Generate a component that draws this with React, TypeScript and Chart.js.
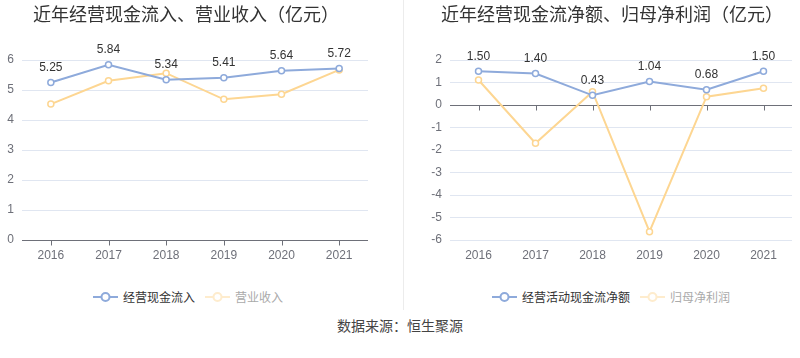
import React, { useEffect, useRef } from 'react';
import { Chart, registerables } from 'chart.js';

Chart.register(...registerables);

const years = ['2016', '2017', '2018', '2019', '2020', '2021'];
const cashInflow = [5.25, 5.84, 5.34, 5.41, 5.64, 5.72];
const revenue = [4.53, 5.31, 5.56, 4.69, 4.86, 5.67];
const netCashFlow = [1.5, 1.4, 0.43, 1.04, 0.68, 1.5];
const netProfit = [1.11, -1.7, 0.59, -5.63, 0.37, 0.74];

const leftTitle = '近年经营现金流入、营业收入（亿元）';
const rightTitle = '近年经营现金流净额、归母净利润（亿元）';
const leftNames = ['经营现金流入', '营业收入'];
const rightNames = ['经营活动现金流净额', '归母净利润'];
const sourceText = '数据来源：恒生聚源';

const BLUE = '#8eaadb';
const ORANGE = '#fdd692';
const NUM_FONT = "'Liberation Sans', Arial, 'Noto Sans CJK SC', sans-serif";
const CJK_FONT = "'Noto Sans CJK SC', 'Liberation Sans', sans-serif";

const zeroAxisPlugin = {
  id: 'zeroAxis',
  beforeDatasetsDraw(chart: any) {
    const { ctx, chartArea, scales } = chart;
    const y0 = Math.round(scales.y.getPixelForValue(0)) + 0.5;
    ctx.save();
    ctx.strokeStyle = '#6e7079';
    ctx.lineWidth = 1;
    ctx.beginPath();
    ctx.moveTo(chartArea.left, y0);
    ctx.lineTo(chartArea.right, y0);
    const n = chart.data.labels.length;
    for (let i = 0; i < n; i++) {
      const x = Math.round(scales.x.getPixelForValue(i)) + 0.5;
      ctx.moveTo(x, y0);
      ctx.lineTo(x, y0 + 5);
    }
    ctx.stroke();
    ctx.restore();
  },
};

const valueLabelPlugin = {
  id: 'valueLabels',
  afterDatasetsDraw(chart: any) {
    const { ctx } = chart;
    const meta = chart.getDatasetMeta(0);
    const data = chart.data.datasets[0].data;
    ctx.save();
    ctx.font = `12px ${NUM_FONT}`;
    ctx.fillStyle = '#333';
    ctx.textAlign = 'center';
    ctx.textBaseline = 'middle';
    meta.data.forEach((pt: any, i: number) => {
      ctx.fillText(Number(data[i]).toFixed(2), pt.x, pt.y - 15);
    });
    ctx.restore();
  },
};

function makeConfig(
  a: number[],
  b: number[],
  names: string[],
  min: number,
  max: number,
  yWidth: number,
  padRight: number
): any {
  const ds = (label: string, data: number[], color: string) => ({
    label,
    data,
    borderColor: color,
    backgroundColor: '#fff',
    borderWidth: 2,
    pointRadius: 3,
    pointBorderWidth: 1.5,
    pointBackgroundColor: '#fff',
    pointBorderColor: color,
    tension: 0,
    clip: false,
  });
  return {
    type: 'line',
    data: {
      labels: years,
      datasets: [ds(names[0], a, BLUE), ds(names[1], b, ORANGE)].reverse().reverse(),
    },
    options: {
      responsive: false,
      animation: false,
      events: [],
      layout: { padding: { top: 60, left: 0, right: padRight, bottom: 0 } },
      plugins: { legend: { display: false }, title: { display: false }, tooltip: { enabled: false } },
      scales: {
        x: {
          type: 'category',
          offset: true,
          grid: { display: false, drawTicks: false },
          border: { display: false },
          ticks: { color: '#6e7079', padding: 8, font: { size: 12, family: NUM_FONT }, maxRotation: 0, autoSkip: false },
          afterFit(scale: any) {
            scale.height = 30;
          },
        },
        y: {
          min,
          max,
          grid: { color: '#e0e6f1', drawTicks: false, lineWidth: 1 },
          border: { display: false },
          ticks: { stepSize: 1, color: '#6e7079', padding: 8, font: { size: 12, family: NUM_FONT } },
          afterFit(scale: any) {
            scale.width = yWidth;
          },
        },
      },
    },
    plugins: [zeroAxisPlugin, valueLabelPlugin],
  };
}

function LineChart(props: { config: any; left: number }) {
  const ref = useRef<HTMLCanvasElement | null>(null);
  useEffect(() => {
    if (!ref.current) return;
    const chart = new Chart(ref.current, props.config);
    return () => chart.destroy();
  }, []);
  return (
    <canvas
      ref={ref}
      width={400}
      height={270}
      style={{ position: 'absolute', left: props.left, top: 0, width: 400, height: 270 }}
    />
  );
}

function LegendIcon(props: { color: string; faded?: boolean }) {
  return (
    <svg width={25} height={14} style={{ display: 'block', opacity: props.faded ? 0.45 : 1 }}>
      <line x1={0} y1={7} x2={25} y2={7} stroke={props.color} strokeWidth={2} />
      <circle cx={12.5} cy={7} r={4} fill="#fff" stroke={props.color} strokeWidth={2} />
    </svg>
  );
}

function Legend(props: { names: string[]; left: number }) {
  return (
    <div
      style={{
        position: 'absolute',
        left: props.left,
        top: 290,
        height: 14,
        display: 'flex',
        alignItems: 'center',
        fontFamily: CJK_FONT,
        fontSize: 12,
        lineHeight: '14px',
        whiteSpace: 'nowrap',
      }}
    >
      <LegendIcon color={BLUE} />
      <span style={{ marginLeft: 5, color: '#333' }}>{props.names[0]}</span>
      <span style={{ width: 10 }} />
      <LegendIcon color={ORANGE} faded />
      <span style={{ marginLeft: 5, color: '#aaa' }}>{props.names[1]}</span>
    </div>
  );
}

export default function App() {
  const leftCfg = makeConfig(cashInflow, revenue, leftNames, 0, 6, 22, 32);
  const rightCfg = makeConfig(netCashFlow, netProfit, rightNames, -6, 2, 50, 8);
  return (
    <div
      style={{
        position: 'absolute',
        left: 0,
        top: 0,
        width: 800,
        height: 358,
        background: '#fff',
        overflow: 'hidden',
      }}
    >
      <div
        style={{
          position: 'absolute',
          left: 403,
          top: 0,
          width: 1,
          height: 310,
          background: '#ececec',
        }}
      />
      <LineChart config={leftCfg} left={0} />
      <LineChart config={rightCfg} left={400} />
      <div
        style={{
          position: 'absolute',
          left: 0,
          width: 372,
          top: 3,
          textAlign: 'center',
          fontFamily: CJK_FONT,
          fontSize: 18,
          lineHeight: '20px',
          color: '#333',
          whiteSpace: 'nowrap',
        }}
      >
        {leftTitle}
      </div>
      <div
        style={{
          position: 'absolute',
          left: 400,
          width: 424,
          top: 3,
          textAlign: 'center',
          fontFamily: CJK_FONT,
          fontSize: 18,
          lineHeight: '20px',
          color: '#333',
          whiteSpace: 'nowrap',
        }}
      >
        {rightTitle}
      </div>
      <Legend names={leftNames} left={93} />
      <Legend names={rightNames} left={492} />
      <div
        style={{
          position: 'absolute',
          left: 0,
          width: 800,
          top: 316,
          textAlign: 'center',
          fontFamily: CJK_FONT,
          fontSize: 14,
          lineHeight: '18px',
          color: '#444',
        }}
      >
        {sourceText}
      </div>
    </div>
  );
}
